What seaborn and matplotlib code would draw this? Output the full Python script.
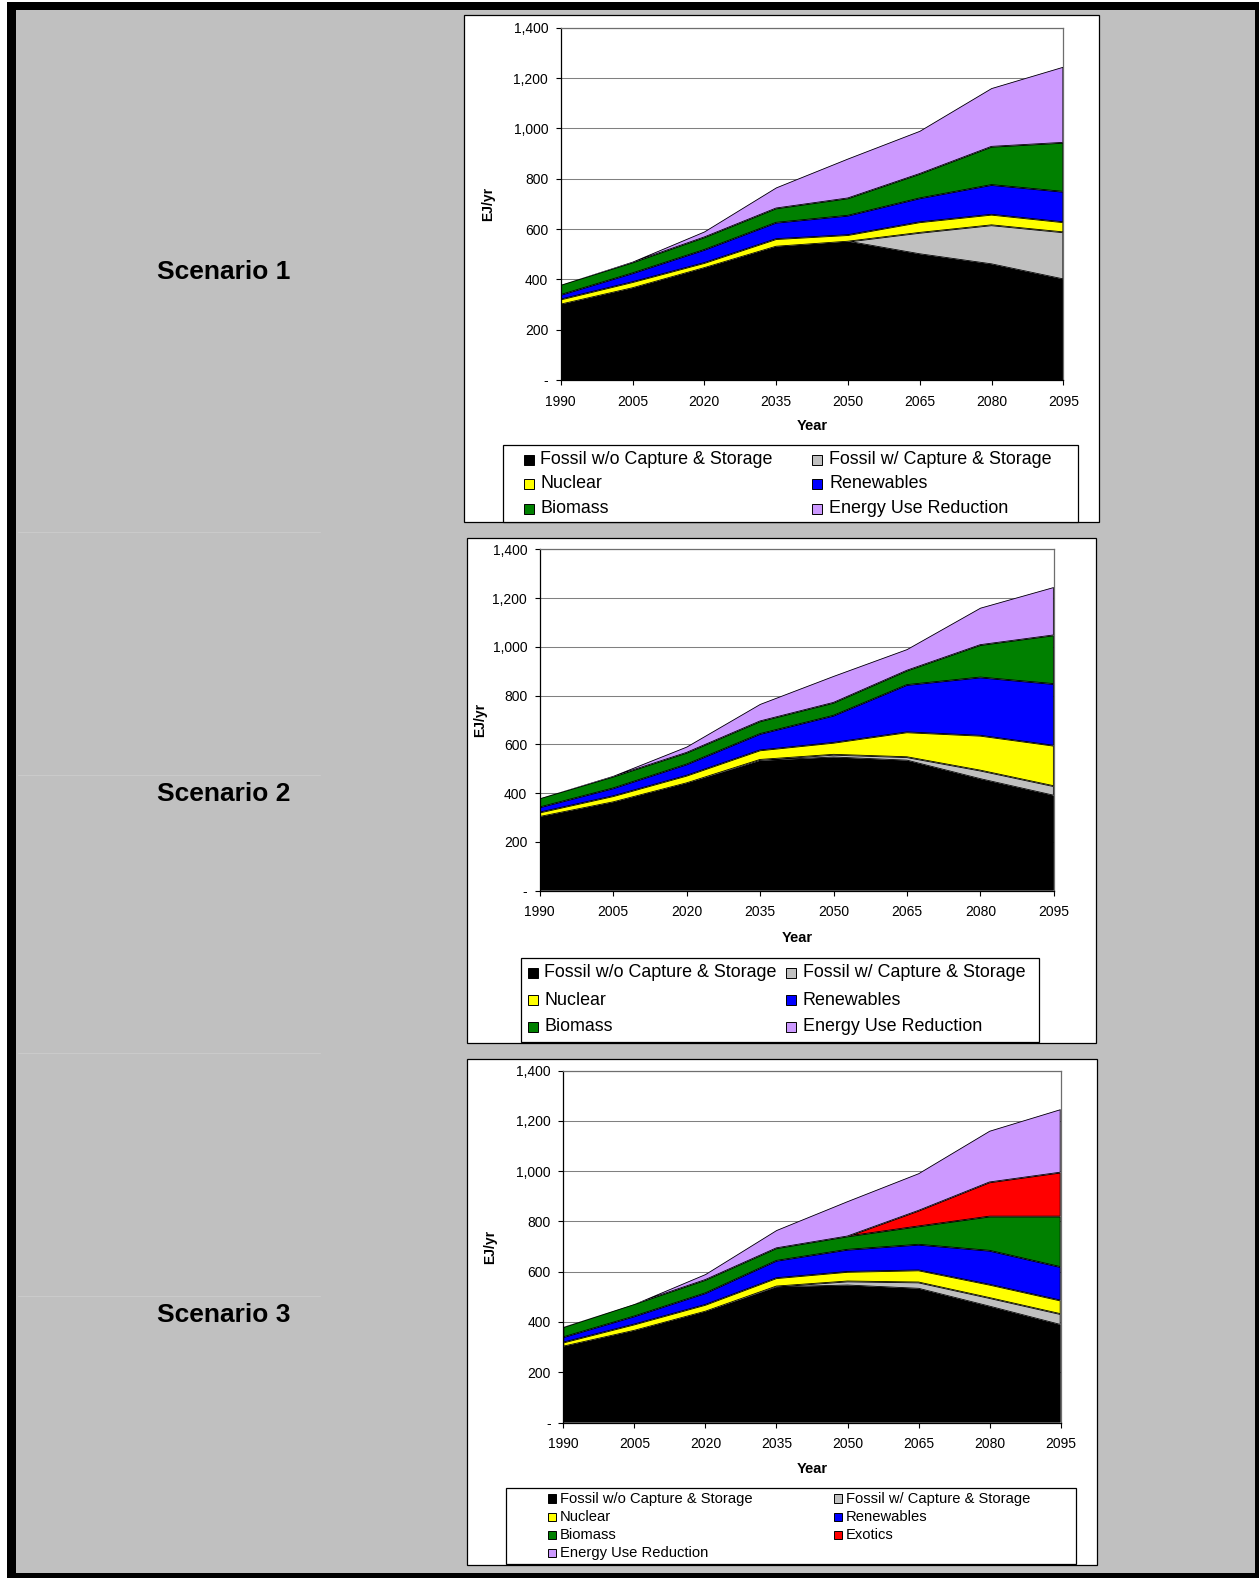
import matplotlib
matplotlib.use("Agg")
import matplotlib as mpl
import matplotlib.pyplot as plt
from matplotlib.patches import Rectangle
from matplotlib.lines import Line2D
import pandas as pd
import seaborn as sns
import seaborn.objects as so

# ---------------- data ----------------
years = [1990, 2005, 2020, 2035, 2050, 2065, 2080, 2095]
y_ticks = [0, 200, 400, 600, 800, 1000, 1200, 1400]
y_tick_labels = ["-", "200", "400", "600", "800", "1,000", "1,200", "1,400"]

source_names = ["Fossil w/o Capture & Storage", "Fossil w/ Capture & Storage",
                "Nuclear", "Renewables", "Biomass", "Exotics", "Energy Use Reduction"]
source_colors = ["#000000", "#C0C0C0", "#FFFF00", "#0000FF", "#008000", "#FF0000", "#CC99FF"]

scenario_titles = ["Scenario 1", "Scenario 2", "Scenario 3"]

# Scenario 1 (EJ/yr, stacked layers)
s1_fossil_wo = [300, 365, 445, 530, 550, 500, 460, 400]
s1_fossil_ccs = [0, 0, 0, 0, 0, 85, 155, 187]
s1_nuclear = [20, 24, 20, 30, 26, 42, 42, 40]
s1_renewables = [18, 35, 52, 65, 77, 95, 118, 121]
s1_biomass = [40, 43, 50, 57, 69, 97, 152, 195]
s1_reduction = [0, 3, 23, 83, 158, 171, 233, 302]

# Scenario 2
s2_fossil_wo = [302, 362, 440, 532, 546, 533, 457, 389]
s2_fossil_ccs = [0, 0, 0, 4, 11, 14, 35, 39]
s2_nuclear = [18, 25, 31, 39, 49, 102, 143, 166]
s2_renewables = [21, 32, 46, 67, 111, 194, 239, 253]
s2_biomass = [37, 48, 48, 52, 53, 59, 133, 200]
s2_reduction = [0, 3, 25, 71, 110, 88, 153, 198]

# Scenario 3
s3_fossil_wo = [302, 365, 441, 538, 545, 532, 461, 388]
s3_fossil_ccs = [0, 0, 0, 3, 16, 25, 34, 43]
s3_nuclear = [16, 25, 27, 33, 38, 48, 53, 54]
s3_renewables = [21, 32, 46, 69, 88, 102, 135, 133]
s3_biomass = [40, 49, 53, 50, 53, 73, 136, 201]
s3_exotics = [0, 0, 0, 0, 0, 62, 136, 175]
s3_reduction = [1, 0, 23, 72, 140, 149, 205, 252]

scenarios = [
    {"Fossil w/o Capture & Storage": s1_fossil_wo, "Fossil w/ Capture & Storage": s1_fossil_ccs,
     "Nuclear": s1_nuclear, "Renewables": s1_renewables, "Biomass": s1_biomass,
     "Energy Use Reduction": s1_reduction},
    {"Fossil w/o Capture & Storage": s2_fossil_wo, "Fossil w/ Capture & Storage": s2_fossil_ccs,
     "Nuclear": s2_nuclear, "Renewables": s2_renewables, "Biomass": s2_biomass,
     "Energy Use Reduction": s2_reduction},
    {"Fossil w/o Capture & Storage": s3_fossil_wo, "Fossil w/ Capture & Storage": s3_fossil_ccs,
     "Nuclear": s3_nuclear, "Renewables": s3_renewables, "Biomass": s3_biomass,
     "Exotics": s3_exotics, "Energy Use Reduction": s3_reduction},
]

# ---------------- style ----------------
sns.set_theme(style="white")
plt.rcParams["font.family"] = ["Liberation Sans", "DejaVu Sans"]
plt.rcParams["font.sans-serif"] = ["Liberation Sans", "DejaVu Sans"]
so.Plot.config.theme.update(mpl.rcParams)

W, H = 1259, 1578
fig = plt.figure(figsize=(W / 100, H / 100), dpi=100)
fig.patch.set_facecolor("white")


def rect(x0, y0, x1, y1, **kw):
    r = Rectangle((x0 / W, 1 - y1 / H), (x1 - x0) / W, (y1 - y0) / H,
                  transform=fig.transFigure, **kw)
    fig.add_artist(r)
    return r


def hline(x0, x1, y, **kw):
    fig.add_artist(Line2D([x0 / W, x1 / W], [1 - y / H, 1 - y / H],
                          transform=fig.transFigure, **kw))


# outer frame and grey table background
rect(7, 2, 1259, 1578, facecolor="black", edgecolor="none", zorder=-20)
rect(16, 10, 1255, 1573, facecolor="#C0C0C0", edgecolor="none", zorder=-19)
for yy, xe in [(532, 320), (775, 320), (1053, 320), (1296, 320)]:
    hline(18, xe, yy, color="#CBCBCB", linewidth=0.7, zorder=-18)

panels = [
    dict(box=(464, 15, 1099, 522), ax=(560.8, 27.8, 1063.3, 380.0), ylab_x=488.6, xlab_y=426,
         leg_box=(503, 445, 1078.4, 522), leg_fs=12.9, marker=10,
         cols=[(523.5, 540.5), (812, 829.5)], rows=[460, 484, 508.5], title_y=272),
    dict(box=(467, 538, 1096, 1043), ax=(539.8, 549.3, 1053.8, 890.5), ylab_x=480.4, xlab_y=937.5,
         leg_box=(521.2, 957.7, 1038.8, 1041.5), leg_fs=12.9, marker=10,
         cols=[(527.5, 544.5), (786, 803)], rows=[973, 1000, 1026.5], title_y=794),
    dict(box=(467, 1059, 1097, 1565), ax=(563.4, 1070.5, 1060.6, 1422.5), ylab_x=490.6, xlab_y=1469,
         leg_box=(505.7, 1488.3, 1075.5, 1564.3), leg_fs=10.6, marker=8.5,
         cols=[(547.8, 560), (833.5, 845.7)], rows=[1498.5, 1517, 1535, 1553], title_y=1315),
]

color_of = dict(zip(source_names, source_colors))

for title, scen, spec in zip(scenario_titles, scenarios, panels):
    # white chart panel
    bx0, by0, bx1, by1 = spec["box"]
    rect(bx0, by0, bx1, by1, facecolor="white", edgecolor="black", linewidth=0.9, zorder=-10)

    # scenario label
    fig.text(224 / W, 1 - spec["title_y"] / H, title, ha="center", va="center",
             fontsize=19, fontweight="bold", color="black")

    x0, y0, x1, y1 = spec["ax"]
    ax = fig.add_axes([x0 / W, 1 - y1 / H, (x1 - x0) / W, (y1 - y0) / H])

    names = list(scen.keys())
    recs = []
    for name in names:
        for yr, v in zip(years, scen[name]):
            recs.append((yr, v, name))
    df = pd.DataFrame(recs, columns=["Year", "EJ/yr", "Source"])

    (
        so.Plot(df, x="Year", y="EJ/yr", color="Source")
        .add(so.Area(alpha=1, edgecolor="black", edgewidth=0.6), so.Stack(), legend=False)
        .scale(color={n: color_of[n] for n in names})
        .on(ax)
        .plot()
    )

    ax.set_xlim(years[0], years[-1])
    ax.set_ylim(y_ticks[0], y_ticks[-1])
    ax.set_xticks(years, [str(y) for y in years])
    ax.set_yticks(y_ticks, y_tick_labels)
    ax.set_facecolor("white")
    ax.grid(False)
    ax.yaxis.grid(True, color="#808080", linewidth=0.75)
    ax.set_axisbelow(True)
    for s in ["left", "bottom"]:
        ax.spines[s].set_visible(True)
        ax.spines[s].set_color("black")
        ax.spines[s].set_linewidth(0.9)
    for s in ["top", "right"]:
        ax.spines[s].set_visible(True)
        ax.spines[s].set_color("#6E6E6E")
        ax.spines[s].set_linewidth(0.9)
    ax.tick_params(axis="both", which="major", direction="out", length=3.6, width=0.8,
                   color="black", labelcolor="black", labelsize=10,
                   left=True, bottom=True, top=False, right=False,
                   labelleft=True, labelbottom=True)
    ax.tick_params(axis="x", pad=7)
    ax.tick_params(axis="y", pad=5.5)

    ax.set_xlabel("Year", fontsize=10.5, fontweight="bold", color="black", va="center", ha="center")
    ax.xaxis.set_label_coords(0.5, (y1 - spec["xlab_y"]) / (y1 - y0))
    ax.set_ylabel("EJ/yr", fontsize=10, fontweight="bold", color="black", rotation=90,
                  va="center", ha="center")
    ax.yaxis.set_label_coords((spec["ylab_x"] - x0) / (x1 - x0), 0.5)

    # legend box with entries in row-major order
    lx0, ly0, lx1, ly1 = spec["leg_box"]
    rect(lx0, ly0, lx1, ly1, facecolor="white", edgecolor="black", linewidth=0.9, zorder=-5)
    m = spec["marker"]
    for i, name in enumerate(names):
        r, c = divmod(i, 2)
        mx, tx = spec["cols"][c]
        ry = spec["rows"][r]
        rect(mx, ry - m / 2, mx + m, ry + m / 2, facecolor=color_of[name], edgecolor="black",
             linewidth=0.7, zorder=2)
        fig.text(tx / W, 1 - ry / H, name, ha="left", va="center", fontsize=spec["leg_fs"],
                 color="black")

fig.savefig("out.png", dpi=100)
